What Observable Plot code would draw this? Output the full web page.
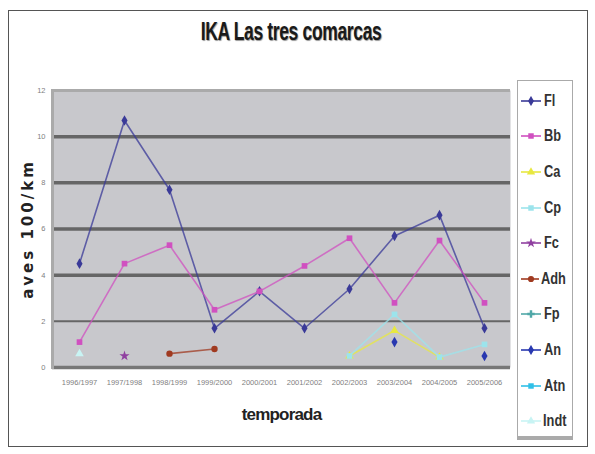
<!DOCTYPE html>
<html><head><meta charset="utf-8">
<script src="https://cdn.jsdelivr.net/npm/d3@7"></script>
<script src="https://cdn.jsdelivr.net/npm/@observablehq/plot@0.6"></script>
<style>
body{margin:0;background:#fff;}
#wrap{position:relative;width:595px;height:454px;overflow:hidden;font-family:"Liberation Sans",Arial,sans-serif;}
#frame{position:absolute;left:8px;top:10px;width:580px;height:437px;border:1.5px solid #555;box-sizing:border-box;}
#title{position:absolute;left:0;top:17px;width:582px;text-align:center;font-size:25px;font-weight:bold;color:#1a1a1a;text-shadow:1px 1px 1px #999;}
#title span{display:inline-block;transform:scaleX(0.7);letter-spacing:-0.5px;}
#chart{position:absolute;left:0;top:70px;}
#legend{position:absolute;left:517px;top:80px;width:56px;height:360px;border:1px solid #aaa;border-bottom:4px solid #aaa;background:#fff;box-sizing:border-box;padding-top:2px;}
.item{height:35.6px;display:flex;align-items:center;}
.item svg{display:block;margin-left:2px;}
.item span{font-size:16px;font-weight:bold;color:#333;margin-left:2px;display:inline-block;transform:scaleX(0.8);transform-origin:left center;}
#chart g[aria-label="y-axis label"] text{font-size:15px;font-weight:bold;letter-spacing:3px;fill:#222;font-family:"DejaVu Sans",sans-serif;}
#chart g[aria-label="x-axis label"] text{font-size:17px;font-weight:bold;fill:#222;font-family:"Liberation Sans",sans-serif;letter-spacing:-0.8px;}
</style></head>
<body>
<div id="wrap">
  <div id="frame"></div>
  <div id="title"><span>IKA Las tres comarcas</span></div>
  <div id="chart"></div>
  <div id="legend"></div>
</div>
<script>
const seasons = ["1996/1997","1997/1998","1998/1999","1999/2000","2000/2001","2001/2002","2002/2003","2003/2004","2004/2005","2005/2006"];
const seriesNames = ["Fl","Bb","Ca","Cp","Fc","Adh","Fp","An","Atn","Indt"];
const yTicks = [0,2,4,6,8,10,12];

const Fl   = [4.5, 10.7, 7.7, 1.7, 3.3, 1.7, 3.4, 5.7, 6.6, 1.7];
const Bb   = [1.1, 4.5, 5.3, 2.5, 3.3, 4.4, 5.6, 2.8, 5.5, 2.8];
const Ca   = [null, null, null, null, null, null, 0.5, 1.6, 0.45, null];
const Cp   = [null, null, null, null, null, null, 0.5, 2.3, 0.45, 1.0];
const Fc   = [null, 0.5, null, null, null, null, null, null, null, null];
const Adh  = [null, null, 0.6, 0.8, null, null, null, null, null, null];
const Fp   = [null, null, null, null, null, null, null, null, null, null];
const An   = [null, null, null, null, null, null, null, 1.1, null, 0.5];
const Atn  = [null, null, null, null, null, null, null, null, null, null];
const Indt = [0.6, null, null, null, null, null, null, null, null, null];

const seriesValues = {Fl, Bb, Ca, Cp, Fc, Adh, Fp, An, Atn, Indt};
const colors  = ["#3a3a98","#d050c0","#e8e840","#9ce4ec","#9040a0","#a03a20","#50a8a8","#2838b0","#30c0e8","#c8f4f4"];
const symbols = ["diamond","square","triangle","square","star","circle","cross","diamond","square","triangle"];

const rows = seriesNames.flatMap(name => seasons.map((s, i) => ({series: name, season: s, value: seriesValues[name][i]})));

const dotMarks = seriesNames.map((name, k) =>
  Plot.dot(rows.filter(d => d.series === name && d.value != null),
    {x: "season", y: "value", fill: colors[k], symbol: symbols[k], r: 3.2}));

const chart = Plot.plot({
  width: 515, height: 384,
  marginLeft: 52, marginRight: 5, marginTop: 20, marginBottom: 87,
  style: {background: "transparent", fontFamily: "'Liberation Sans',sans-serif", overflow: "visible"},
  x: {type: "point", domain: seasons, padding: 0.5},
  y: {domain: [0, 12]},
  marks: [
    Plot.frame({fill: "#c8c8cc", stroke: null}),
    Plot.ruleY(yTicks.filter(v => v === 2), {stroke: "#666", strokeWidth: 2}),
    Plot.ruleY(yTicks.filter(v => v > 2 && v < 12), {stroke: "#666", strokeWidth: 3.5}),
    Plot.ruleY(yTicks.filter(v => v === 12), {stroke: "#aaa", strokeWidth: 3}),
    Plot.ruleY(yTicks.filter(v => v === 0), {stroke: "#777", strokeWidth: 3.5}),
    Plot.frame({anchor: "left", stroke: "#aaa", strokeWidth: 3}),
    Plot.line(rows, {x: "season", y: "value", z: "series", stroke: "series", strokeWidth: 1.6, strokeOpacity: 0.75}),
    ...dotMarks,
    Plot.axisX({tickSize: 0, tickPadding: 12, fontSize: 7.5, color: "#808080", label: "temporada", labelAnchor: "center", labelOffset: 52, labelArrow: "none"}),
    Plot.axisY({ticks: yTicks, tickSize: 0, tickPadding: 7, fontSize: 7.5, color: "#808080", label: "aves 100/km", labelAnchor: "center", labelOffset: 30, labelArrow: "none"})
  ],
  color: {domain: seriesNames, range: colors}
});
document.getElementById("chart").appendChild(chart);

// legend
const legend = d3.select("#legend");
seriesNames.forEach((name, k) => {
  const it = legend.append("div").attr("class", "item");
  const s = it.append("svg").attr("width", 22).attr("height", 10);
  s.append("line").attr("x1", 1).attr("x2", 21).attr("y1", 5).attr("y2", 5).attr("stroke", colors[k]).attr("stroke-width", 1.6);
  const symType = {diamond: d3.symbolDiamond, square: d3.symbolSquare, triangle: d3.symbolTriangle, star: d3.symbolStar, circle: d3.symbolCircle, cross: d3.symbolCross}[symbols[k]];
  s.append("path").attr("d", d3.symbol(symType, 30)()).attr("transform", "translate(11,5)").attr("fill", colors[k]);
  it.append("span").text(name);
});
</script>
</body></html>
